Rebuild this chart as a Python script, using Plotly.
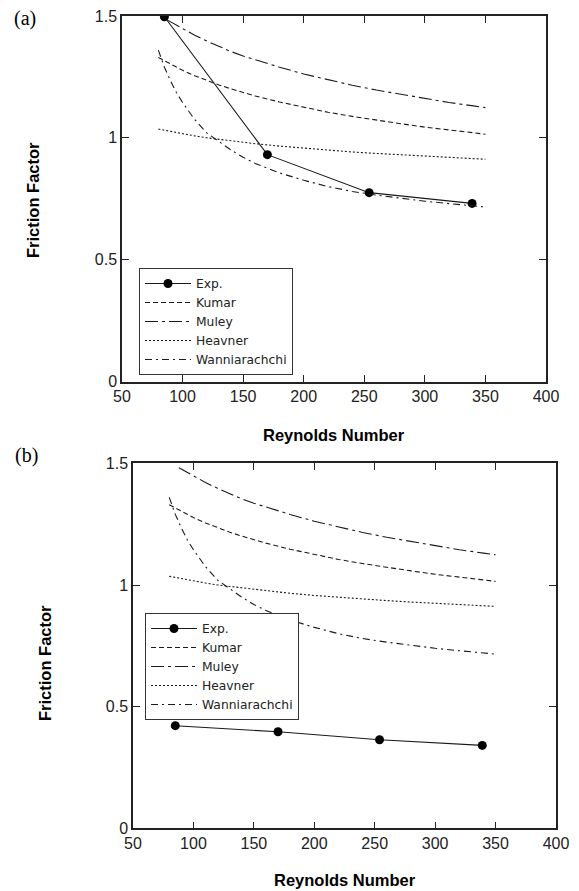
import plotly.graph_objects as go

# ---------------- data ----------------
re_exp = [85, 170, 254, 339]
f_exp_a = [1.497, 0.931, 0.775, 0.731]
f_exp_b = [0.422, 0.397, 0.364, 0.341]

re_corr = [80, 90, 100, 110, 120, 130, 140, 150, 160, 180, 200, 220, 240, 260, 280, 300, 320, 340, 350]
kumar = [1.330, 1.302, 1.277, 1.255, 1.235, 1.217, 1.201, 1.185, 1.172, 1.147, 1.125,
         1.105, 1.088, 1.072, 1.058, 1.044, 1.032, 1.021, 1.015]
heavner = [1.036, 1.026, 1.016, 1.008, 1.000, 0.994, 0.987, 0.981, 0.976, 0.966, 0.957,
           0.949, 0.942, 0.936, 0.930, 0.924, 0.919, 0.914, 0.912]

re_muley = [88, 100, 110, 120, 130, 140, 150, 160, 180, 200, 220, 240, 260, 280, 300, 320, 340, 350]
muley = [1.482, 1.447, 1.421, 1.397, 1.375, 1.354, 1.336, 1.320, 1.290, 1.262, 1.238,
         1.216, 1.196, 1.178, 1.161, 1.145, 1.131, 1.124]

re_wanni = [80, 85, 90, 95, 100, 110, 120, 130, 140, 150, 160, 180, 200, 220, 240, 260, 280, 300, 320, 340, 350]
wanni = [1.360, 1.290, 1.235, 1.185, 1.145, 1.075, 1.020, 0.985, 0.950, 0.920, 0.895, 0.856,
         0.826, 0.800, 0.780, 0.765, 0.752, 0.740, 0.730, 0.720, 0.716]

x_ticks = [50, 100, 150, 200, 250, 300, 350, 400]
y_ticks = [0, 0.5, 1, 1.5]

W, H = 579, 891
INK = "#1a1a1a"
LINE_W = 1.1

def px_x(p):
    return p / W

def px_y(p):
    return 1 - p / H

styles = {
    "Kumar": "5px,3px",
    "Muley": "13px,4px,3px,4px",
    "Heavner": "2px,2px",
    "Wanniarachchi": "7px,4px,2px,4px",
}

fig = go.Figure()

for xa, ya, leg, fexp in [("x", "y", "legend", f_exp_a), ("x2", "y2", "legend2", f_exp_b)]:
    fig.add_trace(go.Scatter(x=re_exp, y=fexp, mode="lines+markers", name="Exp.",
                             line=dict(color=INK, width=LINE_W),
                             marker=dict(color="black", size=9),
                             xaxis=xa, yaxis=ya, legend=leg))
    for name, xs, ys in [("Kumar", re_corr, kumar), ("Muley", re_muley, muley),
                         ("Heavner", re_corr, heavner), ("Wanniarachchi", re_wanni, wanni)]:
        fig.add_trace(go.Scatter(x=xs, y=ys, mode="lines", name=name,
                                 line=dict(color=INK, width=LINE_W, dash=styles[name]),
                                 xaxis=xa, yaxis=ya, legend=leg))

tick_font = dict(family="Liberation Sans, Arial, sans-serif", size=16, color="#222")
axis_common = dict(showline=True, linecolor="#222", linewidth=1.5, mirror="ticks",
                   ticks="inside", ticklen=7, tickwidth=1.2, tickcolor="#222",
                   showgrid=False, zeroline=False, tickfont=tick_font, automargin=False)

legend_common = dict(xanchor="left", yanchor="top", bordercolor="#333", borderwidth=1,
                     bgcolor="white", itemwidth=46, tracegroupgap=0,
                     font=dict(family="DejaVu Sans, Arial, sans-serif", size=12.3, color="#222"))

fig.update_layout(
    template="none",
    width=W, height=H,
    margin=dict(l=0, r=0, t=0, b=0, autoexpand=False),
    paper_bgcolor="white", plot_bgcolor="white",
    showlegend=True,
    xaxis=dict(domain=[px_x(122), px_x(546)], range=[50, 400], tickvals=x_ticks, anchor="y", **axis_common),
    yaxis=dict(domain=[px_y(381.5), px_y(16)], range=[0, 1.5], tickvals=y_ticks, anchor="x", **axis_common),
    xaxis2=dict(domain=[px_x(133), px_x(556)], range=[50, 400], tickvals=x_ticks, anchor="y2", **axis_common),
    yaxis2=dict(domain=[px_y(828.4), px_y(463.3)], range=[0, 1.5], tickvals=y_ticks, anchor="x2", **axis_common),
    legend=dict(x=px_x(139), y=px_y(268), **legend_common),
    legend2=dict(x=px_x(145), y=px_y(613), **legend_common),
)

title_font = dict(family="Liberation Sans, Arial, sans-serif", size=16.5, color="black")
label_font = dict(family="Liberation Serif, Times New Roman, serif", size=20, color="black")

annotations = [
    dict(text="(a)", x=px_x(25), y=px_y(18), font=label_font),
    dict(text="(b)", x=px_x(26), y=px_y(455), font=label_font),
    dict(text="<b>Reynolds Number</b>", x=px_x(334), y=px_y(435), font=title_font),
    dict(text="<b>Reynolds Number</b>", x=px_x(345), y=px_y(880), font=title_font),
    dict(text="<b>Friction Factor</b>", x=px_x(33), y=px_y(200), font=title_font, textangle=-90),
    dict(text="<b>Friction Factor</b>", x=px_x(45), y=px_y(663), font=title_font, textangle=-90),
]
for a in annotations:
    a.update(xref="paper", yref="paper", showarrow=False, xanchor="center", yanchor="middle")
fig.update_layout(annotations=annotations)

fig.write_html("out.html",
               config={"displayModeBar": False},
               post_script="document.body.style.margin='0px';document.body.style.overflow='hidden';")
